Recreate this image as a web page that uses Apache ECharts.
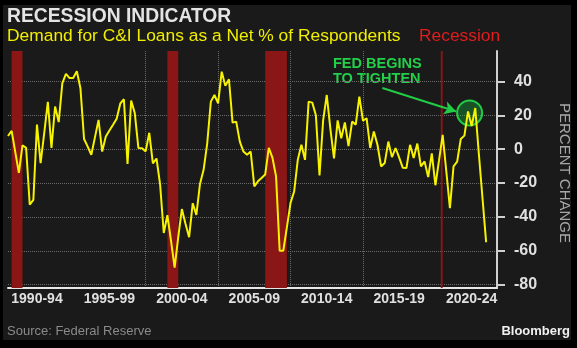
<!DOCTYPE html>
<html>
<head>
<meta charset="utf-8">
<script src="https://cdn.jsdelivr.net/npm/echarts@6/dist/echarts.min.js"></script>
<style>
html,body{margin:0;padding:0;background:#000;}
#c{width:577px;height:348px;}
</style>
</head>
<body>
<div id="c"></div>
<script>
// ---- data ----
const firstQuarter = 1990.5;          // decimal-year date of first observation (quarterly)
const demand = [
  7.8, 10.8, -1.6, -14, 2.3, 0.8, -32.8, -30, 14.5, -8.2,
  9.5, 28, 0.8, 25.2, 16, 39, 44.5, 42, 42, 46,
  36, 6, 1.5, -3.3, 7, 17.3, -1.4, 7.5, 11, 14.4,
  18, 27, 29.5, -8.7, 28.7, 21.3, 0.7, 0.5, -1.3, 9.7,
  -8.4, -5.5, -21, -49.5, -39, -54, -70, -52, -35.4, -44,
  -52, -31.9, -38.8, -20.5, -12.2, 3.5, 28.1, 32, 27.1, 45.8,
  37.4, 41.3, 15.7, 16.3, 4.5, -1.4, -3.3, -1.4, -22, -19,
  -17, -15, 0.8, -5, -16, -60, -60, -46, -31.7, -25,
  -6.3, 2.6, -6.3, 28.1, 27.5, 20, -15.5, 17, 32, 12,
  -5.5, 17, 6.5, 15.8, 1.8, 16.3, 14.5, 31.1, 16.8, 18.3,
  0.7, 10.5, 2.6, -10.2, -8.2, 4.5, -4.7, 0.7, -5, -11,
  -11.1, 2.6, -5.2, 3.3, -10.1, -7.2, -16.5, -2.5, -21.3, -6.5,
  8.5, -13, -34.8, -10.2, -7.3, 6, 8, 22.3, 13.7, 24.3,
  -3, -29, -55
];
const recessions = [[1990.75, 1991.5], [2001.5, 2002.25], [2008.25, 2009.75], [2020.37, 2020.5]];
const xGridYears = [1995, 2000, 2005, 2010, 2015, 2020];
const xLabelYears = [1992.5, 1997.5, 2002.5, 2007.5, 2012.5, 2017.5, 2022.5];
const xLabels = ['1990-94', '1995-99', '2000-04', '2005-09', '2010-14', '2015-19', '2020-24'];
const yTicks = [-80, -60, -40, -20, 0, 20, 40];
const fedCircle = [2022.36, 21.4];
const fedArrow = [[2016.34, 36.1], [2021.44, 22.3]];

// ---- chart ----
const lineData = demand.map((v, i) => [firstQuarter + i * 0.25, v]);
const F = '"Liberation Sans", Arial, sans-serif';
const chart = echarts.init(document.getElementById('c'), null, {renderer: 'canvas'});
chart.setOption({
  animation: false,
  backgroundColor: '#000',
  grid: {left: 8, right: 80, top: 51, bottom: 60, containLabel: false, outerBoundsMode: 'none'},
  xAxis: {
    type: 'value', min: 1990.5, max: 2024.25,
    axisLine: {show: true, onZero: false, lineStyle: {color: '#e6e6e6', width: 2}},
    axisTick: {show: false, customValues: xGridYears},
    splitLine: {show: true, showMinLine: false, showMaxLine: false,
      lineStyle: {color: '#6a6a6a', type: 'dotted', width: 1}},
    axisLabel: {customValues: xLabelYears, margin: 4, color: '#e0e0e0', fontFamily: F,
      fontWeight: 'bold', fontSize: 14,
      formatter: v => xLabels[xLabelYears.indexOf(v)] || ''}
  },
  yAxis: {
    type: 'value', position: 'right', min: -82, max: 58,
    axisLine: {show: true, lineStyle: {color: '#d0d0d0', width: 2}},
    axisTick: {show: true, length: 8, customValues: yTicks, lineStyle: {color: '#d0d0d0', width: 2}},
    splitLine: {show: true, lineStyle: {color: '#6a6a6a', type: 'dotted', width: 1}},
    axisLabel: {customValues: yTicks, margin: 17, color: '#e0e0e0', fontFamily: F,
      fontWeight: 'bold', fontSize: 16}
  },
  series: [
    {
      type: 'line', data: [], silent: true,
      markArea: {
        silent: true,
        itemStyle: {color: '#8a1616'},
        data: recessions.map(r => [{xAxis: r[0]}, {xAxis: r[1]}])
      }
    },
    {
      type: 'line', data: lineData, symbol: 'none', showSymbol: false,
      lineStyle: {color: '#f6f200', width: 2}, z: 5,
      markLine: {
        silent: true, symbol: ['none', 'arrow'], symbolSize: [10, 12],
        lineStyle: {color: '#22cc44', width: 2, type: 'solid'},
        label: {show: false},
        data: [[{coord: fedArrow[0]}, {coord: fedArrow[1]}]]
      },
      markPoint: {
        silent: true, symbol: 'circle', symbolSize: 25,
        itemStyle: {color: 'rgba(30,190,70,0.35)', borderColor: '#22cc44', borderWidth: 2},
        label: {show: false},
        data: [{coord: fedCircle}]
      }
    }
  ],
  graphic: [
    {type: 'rect', z: -100, silent: true, shape: {x: 3, y: 5, width: 568, height: 335}, style: {fill: '#1a1a1a'}},
    {type: 'text', x: 7, y: 16.5, style: {text: 'RECESSION INDICATOR', fill: '#e4e4e4',
      font: 'bold 19.3px ' + F, textVerticalAlign: 'middle'}},
    {type: 'text', x: 7, y: 36, style: {text: 'Demand for C&I Loans as a Net % of Respondents', fill: '#f2ee00',
      font: '17.4px ' + F, textVerticalAlign: 'middle'}},
    {type: 'text', x: 419, y: 36, style: {text: 'Recession', fill: '#e21c1c',
      font: '17.4px ' + F, textVerticalAlign: 'middle'}},
    {type: 'text', x: 333, y: 63.5, style: {text: 'FED BEGINS', fill: '#22d04a',
      font: 'bold 14.5px ' + F, textVerticalAlign: 'middle'}},
    {type: 'text', x: 333, y: 79, style: {text: 'TO TIGHTEN', fill: '#22d04a',
      font: 'bold 14.5px ' + F, textVerticalAlign: 'middle'}},
    {type: 'text', x: 564, y: 173, rotation: -Math.PI / 2, style: {text: 'PERCENT CHANGE', fill: '#a8a8a8',
      font: '15px ' + F, textAlign: 'center', textVerticalAlign: 'middle'}},
    {type: 'text', x: 7, y: 331.5, style: {text: 'Source: Federal Reserve', fill: '#8a8a8a',
      font: '13px ' + F, textVerticalAlign: 'middle'}},
    {type: 'text', x: 570, y: 331.5, style: {text: 'Bloomberg', fill: '#f0f0f0',
      font: 'bold 13px ' + F, textAlign: 'right', textVerticalAlign: 'middle'}}
  ]
});
</script>
</body>
</html>
